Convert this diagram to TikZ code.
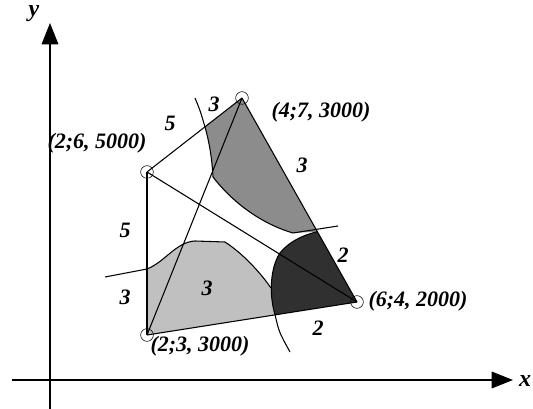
\documentclass[tikz,border=0pt]{standalone}
\usepackage{fontspec}
\setmainfont{Liberation Serif}
\usetikzlibrary{arrows.meta,calc}
\definecolor{midgray}{RGB}{140,140,140}
\definecolor{lightgray2}{RGB}{192,192,192}
\definecolor{darkgray2}{RGB}{48,48,48}
\begin{document}
\begin{tikzpicture}[x=0.75pt,y=-0.75pt,
  lbl/.style={inner sep=0pt,font=\fontsize{16.5}{19}\selectfont\bfseries\itshape},
  vert/.style={circle,draw,minimum size=9.5pt,inner sep=0pt},
  edge/.style={line width=0.8pt},
  axis/.style={line width=0.9pt,-{Triangle[length=16pt,width=12.5pt]}}]
\useasboundingbox (0,0) rectangle (533,409);
% vertex coordinates
\coordinate (A) at (147,172);
\coordinate (B) at (242,98);
\coordinate (C) at (357,302);
\coordinate (D) at (147,335);
\coordinate (P) at ($(B)!0.655!(C)$);
\coordinate (Q) at ($(D)!0.61!(C)$);
% axes
\coordinate (yb) at (50,409);
\coordinate (yt) at (50,23);
\coordinate (xl) at (12,380);
\coordinate (xr) at (513,380);
\draw[axis] (yb) -- (yt);
\draw[axis] (xl) -- (xr);
\node[lbl,font=\fontsize{18}{20}\selectfont\bfseries\itshape] (ylab) at (34,14) {y};
\node[lbl,font=\fontsize{18}{20}\selectfont\bfseries\itshape] (xlab) at (525,381) {x};
% medium gray region
\fill[midgray] (205,127) -- (B) -- (P) -- (293,233)
  .. controls (262,224) and (233,203) .. (213,177)
  .. controls (212,160) and (210,145) .. (205,127) -- cycle;
% light gray region
\fill[lightgray2] (147,269) .. controls (165,262) and (176,242) .. (195,241)
  -- (225,242) .. controls (245,255) and (262,275) .. (271,288)
  -- (Q) -- (D) -- cycle;
% dark region
\fill[darkgray2] (P) -- (C) -- (Q) .. controls (269,295) and (270,268) .. (280,253)
  .. controls (288,243) and (300,236) .. (P) -- cycle;
% curves
\draw[edge] (195,98) .. controls (200,110) .. (205,127)
  .. controls (210,145) and (212,160) .. (213,177)
  .. controls (233,203) and (262,224) .. (293,233) -- (338,226);
\draw[edge] (105,277) -- (147,269) .. controls (165,262) and (176,242) .. (195,241)
  -- (225,242) .. controls (245,255) and (262,275) .. (271,288);
\draw[edge] (P) .. controls (300,236) and (288,243) .. (280,253)
  .. controls (270,268) and (269,295) .. (Q) .. controls (279,332) .. (290,352);
% edges
\draw[edge] (A) -- (B);
\draw[edge] (A) -- (C);
\draw[edge] (A) -- (D);
\draw[edge] (B) -- (C);
\draw[edge] (B) -- (D);
\draw[edge] (D) -- (C);
% vertex circles
\node[vert] (nA) at (A) {};
\node[vert] (nB) at (B) {};
\node[vert] (nC) at (C) {};
\node[vert] (nD) at (D) {};
% labels
\node[lbl] (lA) at (97,143) {(2;6, 5000)};
\node[lbl] (lB) at (321,112) {(4;7, 3000)};
\node[lbl] (lC) at (418,301) {(6;4, 2000)};
\node[lbl] (lD) at (200,346) {(2;3, 3000)};
\node[lbl] (n1) at (170,123) {5};
\node[lbl] (n2) at (214,104) {3};
\node[lbl] (n3) at (302,165) {3};
\node[lbl] (n4) at (125,230) {5};
\node[lbl] (n5) at (343,255) {2};
\node[lbl] (n6) at (125,297) {3};
\node[lbl] (n7) at (207,288) {3};
\node[lbl] (n8) at (318,328) {2};
\end{tikzpicture}
\end{document}
